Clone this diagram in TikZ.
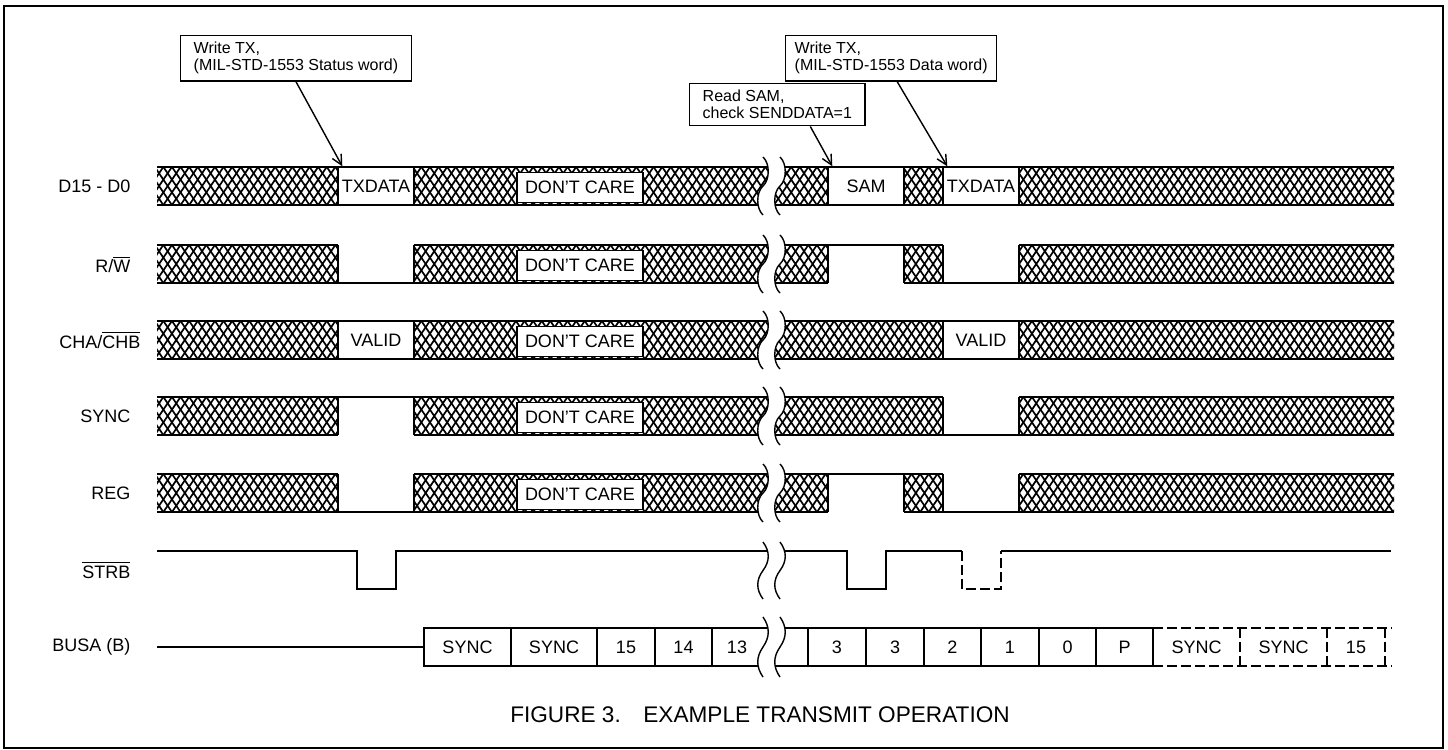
\documentclass[tikz,border=0pt]{standalone}
\usepackage{fontspec}
\setmainfont{Liberation Sans}
\usetikzlibrary{arrows.meta}
\usetikzlibrary{positioning}
\tikzstyle{lbl} = [anchor=east, inner sep=0pt, font=\fontsize{9}{11}\selectfont]
\tikzstyle{databox} = [rectangle, draw=black, minimum width=38pt, minimum height=19pt, inner sep=0pt, font=\fontsize{9}{11}\selectfont]
\tikzstyle{dcare} = [rectangle, draw=black, fill=white, minimum width=63pt, minimum height=14.8pt, inner sep=0pt, font=\fontsize{9}{11}\selectfont]
\tikzstyle{cell} = [inner sep=0pt, font=\fontsize{9}{11}\selectfont]
\tikzstyle{note} = [rectangle, draw=black, align=left, anchor=north west, minimum height=20pt, inner xsep=6.5pt, font=\fontsize{8}{8.5}\selectfont]
\tikzstyle{ptr} = [-{Straight Barb[length=5pt,width=5pt]}]
\newcommand{\ovl}[1]{$\overline{\mbox{#1}}$}
% hatched bus segment: x from, x to, top y
\newcommand{\hatch}[3]{%
  \begin{scope}
    \clip (#1,#3) rectangle (#2,#3+38);
    \pgfmathsetmacro{\hxa}{8.6*floor((#1-26)/8.6)}
    \pgfmathsetmacro{\hxb}{\hxa+8.6}
    \foreach \i in {\hxa,\hxb,...,#2}
      \draw[line width=0.85pt] (\i,#3+38) -- ++(25.7,-38) (\i,#3) -- ++(25.7,38);
  \end{scope}
  \draw (#1,#3) -- (#2,#3) (#1,#3+38) -- (#2,#3+38);}
\newcommand{\lowseg}[3]{\draw (#1,#3) -- (#1,#3+38) -- (#2,#3+38) -- (#2,#3);}
\newcommand{\highseg}[3]{\draw (#1,#3+38) -- (#1,#3) -- (#2,#3) -- (#2,#3+38);}
% time break: top y, bottom y
\newcommand{\brk}[2]{%
  \pgfmathsetmacro{\bm}{(#1+#2)/2}
  \pgfmathsetmacro{\bq}{(#2-#1)/6}
  \fill[white] (763,#1) .. controls (770,#1+\bq) and (770,\bm-\bq) .. (763,\bm)
    .. controls (756,\bm+\bq) and (756,#2-\bq) .. (763,#2) -- (780,#2)
    .. controls (773,#2-\bq) and (773,\bm+\bq) .. (780,\bm)
    .. controls (787,\bm-\bq) and (787,#1+\bq) .. (780,#1) -- cycle;
  \foreach \bx in {763,780}
    \draw (\bx,#1) .. controls (\bx+7,#1+\bq) and (\bx+7,\bm-\bq) .. (\bx,\bm)
      .. controls (\bx-7,\bm+\bq) and (\bx-7,#2-\bq) .. (\bx,#2);}

\begin{document}
\begin{tikzpicture}[x=0.5pt, y=-0.5pt, line width=0.7pt]
\useasboundingbox (0,0) rectangle (1448,750);
\draw[line width=1pt] (3.5,5.5) rectangle (1442.5,747.5);

% signal names
\node[lbl] (ld) at (131,186) {D15 - D0};
\node[lbl] (lrw) at (131,264) {R/\ovl{W}};
\node[lbl] (lch) at (141,340) {CHA/\ovl{CHB}};
\node[lbl] (lsy) at (131,416) {SYNC};
\node[lbl] (lrg) at (131,493) {REG};
\node[lbl] (lst) at (131,570) {\ovl{STRB}};
\node[lbl] (lbu) at (131,647) {BUSA (B)};

% D15 - D0
\hatch{157}{338}{167} \hatch{414}{828}{167} \hatch{904}{943}{167} \hatch{1019}{1394}{167}
\node[databox] (tx1) at (376,186) {TXDATA};
\node[databox] (sam) at (866,186) {SAM};
\node[databox] (tx2) at (981,186) {TXDATA};

% R/W and REG
\foreach \r in {245,474} {
  \hatch{157}{338}{\r} \hatch{414}{828}{\r} \hatch{904}{943}{\r} \hatch{1019}{1394}{\r}
  \lowseg{338}{414}{\r} \highseg{828}{904}{\r} \lowseg{943}{1019}{\r}
}

% CHA/CHB
\hatch{157}{338}{321} \hatch{414}{943}{321} \hatch{1019}{1394}{321}
\node[databox] (va1) at (376,340) {VALID};
\node[databox] (va2) at (981,340) {VALID};

% SYNC
\hatch{157}{338}{397} \hatch{414}{943}{397} \hatch{1019}{1394}{397}
\highseg{338}{414}{397} \lowseg{943}{1019}{397}

% STRB
\draw (157,551) -- (357,551) -- (357,589) -- (396,589) -- (396,551) -- (847,551)
  -- (847,589) -- (886,589) -- (886,551) -- (962,551);
\draw[dash pattern=on 5pt off 2pt] (962,551) -- (962,589) -- (1001,589) -- (1001,551);
\draw (1001,551) -- (1391,551);

% BUSA (B)
\draw (157,647) -- (424,647);
\foreach \xa/\xb/\txt [count=\n] in {424/511/SYNC, 511/597/SYNC, 597/655/15, 655/712/14,
    808/866/3, 866/924/3, 924/981/2, 981/1039/1, 1039/1096/0, 1096/1153/P} {
  \draw (\xa,628) rectangle (\xb,666);
  \node[cell] (bit\n) at ({(\xa+\xb)/2},647) {\txt};
}
\draw (712,628) -- (808,628) (712,666) -- (808,666);
\node[cell] (bit13) at (737,647) {13};
\draw[dash pattern=on 5pt off 2pt] (1153,628) -- (1392,628) (1153,666) -- (1392,666)
  (1240,628) -- (1240,666) (1327,628) -- (1327,666) (1385,628) -- (1385,666);
\node[cell] (nx1) at (1196.5,647) {SYNC};
\node[cell] (nx2) at (1283.5,647) {SYNC};
\node[cell] (nx3) at (1356,647) {15};

% breaks
\foreach \r in {167,245,321,397,474}
  \brk{\r-10}{\r+48};
\brk{542}{599}
\brk{617}{677}

\foreach \r in {167,245,321,397,474}
  \node[dcare] (dc\r) at (580,\r+20.5) {DON’T CARE};

% notes
\node[note] (wr1) at (180,35) {Write TX,\\(MIL-STD-1553 Status word)};
\node[note] (rd) at (689,83) {Read SAM,\\check SENDDATA=1};
\node[note, inner xsep=4.5pt] (wr2) at (785,35) {Write TX,\\(MIL-STD-1553 Data word)};
\draw[ptr] (wr1.south) -- ([xshift=2.5pt]tx1.north west);
\draw[ptr] ([xshift=16.5pt]rd.south) -- ([xshift=2.5pt]sam.north west);
\draw[ptr] ([xshift=3pt]wr2.south) -- ([xshift=2.5pt]tx2.north west);

\node[font=\fontsize{11.3}{13}\selectfont] (cap) at (760,715) {FIGURE 3.\quad EXAMPLE TRANSMIT OPERATION};
\end{tikzpicture}
\end{document}
